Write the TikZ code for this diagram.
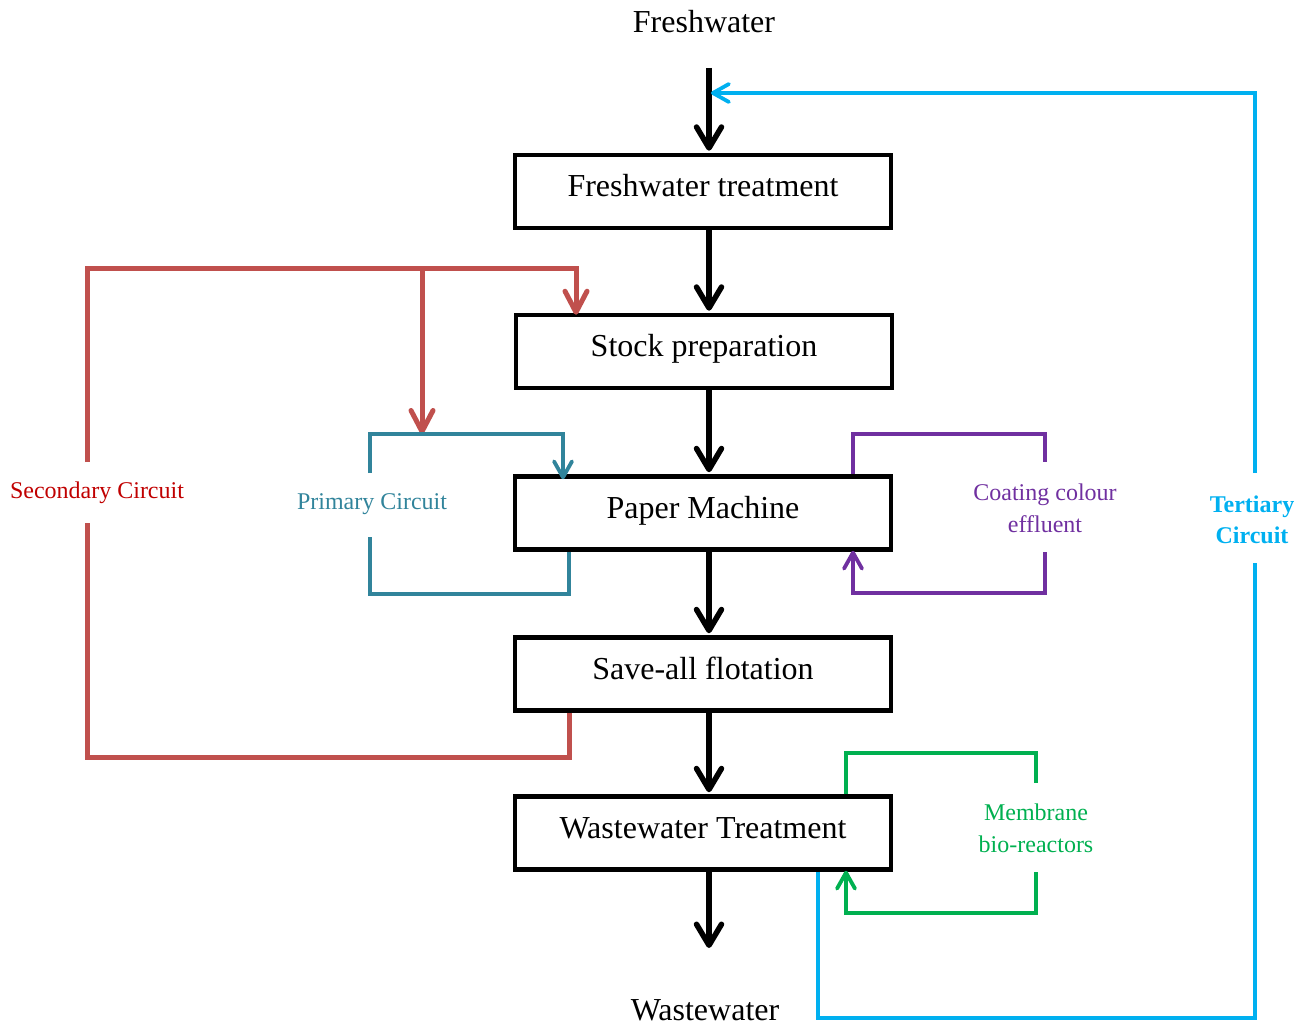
\documentclass[tikz,border=0pt]{standalone}
\usepackage{fontspec}
\setmainfont{Liberation Serif}
\usetikzlibrary{arrows.meta}
\definecolor{cred}{HTML}{C0504D}
\definecolor{cdred}{HTML}{C00000}
\definecolor{cteal}{HTML}{31849B}
\definecolor{cpurp}{HTML}{7030A0}
\definecolor{cgreen}{HTML}{00B050}
\definecolor{cblue}{HTML}{00B0F0}
\begin{document}
\begin{tikzpicture}[x=1pt,y=-1pt,
  proc/.style={draw,line width=4.5pt,minimum width=376pt,minimum height=73pt,inner sep=0pt,
    font=\fontsize{32}{36}\selectfont,text height=21pt,text depth=11pt},
  bigtxt/.style={inner sep=0pt,font=\fontsize{32}{36}\selectfont},
  smalltxt/.style={inner sep=0pt,align=center,font=\fontsize{24}{32}\selectfont},
  flow/.style={line width=5.5pt,-{Straight Barb[length=21pt,width=25pt,round]},shorten >=2pt},
  redl/.style={cred,line width=5pt},
  redarr/.style={redl,-{Straight Barb[length=21pt,width=22pt,round]}},
  teall/.style={cteal,line width=3.8pt},
  purpl/.style={cpurp,line width=3.8pt},
  greenl/.style={cgreen,line width=3.8pt},
  bluel/.style={cblue,line width=3.8pt},
  smallarr/.style={-{Straight Barb[length=16pt,width=18pt,round]}},
]
\useasboundingbox (0,0) rectangle (1306,1027);

% process boxes
\node[proc] (b1) at (703,191.5) {Freshwater treatment};
\node[proc] (b2) at (704,351.5) {Stock preparation};
\node[proc] (b3) at (703,513) {Paper Machine};
\node[proc] (b4) at (703,674) {Save-all flotation};
\node[proc] (b5) at (703,833) {Wastewater Treatment};

% end labels
\node[bigtxt] (fw) at (704,22) {Freshwater};
\node[bigtxt] (ww) at (705,1010) {Wastewater};

% circuit labels
\node[smalltxt,text=cdred] (sec) at (97,493) {Secondary Circuit};
\node[smalltxt,text=cteal] (prim) at (372,504) {Primary Circuit};
\node[smalltxt,text=cpurp] (coat) at (1045,508) {Coating colour\\effluent};
\node[smalltxt,text=cgreen] (mem) at (1036,828) {Membrane\\bio-reactors};
\node[smalltxt,text=cblue,font=\fontsize{24}{31}\selectfont\bfseries] (tert) at (1252,520) {Tertiary\\Circuit};

% helper coordinates
\coordinate (ax) at (709,0);
\coordinate (fwin) at (709,68);
\coordinate (wwout) at (709,948);

% main flow
\draw[flow] (fwin) -- (b1.north -| ax);
\draw[flow] (b1.south -| ax) -- (b2.north -| ax);
\draw[flow] (b2.south -| ax) -- (b3.north -| ax);
\draw[flow] (b3.south -| ax) -- (b4.north -| ax);
\draw[flow] (b4.south -| ax) -- (b5.north -| ax);
\draw[flow,shorten >=0pt] (b5.south -| ax) -- (wwout);

% secondary circuit (red)
\coordinate (s1) at (569,0);
\coordinate (s2) at (87,757);
\coordinate (s3) at (87,523);
\coordinate (s4) at (87,462);
\coordinate (s5) at (87,268);
\coordinate (s6) at (576,268);
\coordinate (s7) at (422,268);
\coordinate (p0) at (422,434);
\draw[redl] (b4.south -| s1) |- (s2) -- (s3);
\draw[redarr] (s4) -- (s5) -| ([yshift=-2pt]b2.north -| s6);
\draw[redarr] (s7) -- (p0);

% primary circuit (teal)
\coordinate (p1) at (370,473);
\coordinate (p2) at (370,434);
\coordinate (p3) at (563,434);
\coordinate (p4) at (370,537);
\coordinate (p5) at (370,594);
\coordinate (p6) at (569,0);
\draw[teall,smallarr] (p1) -- (p2) -| ([yshift=-5pt]b3.north -| p3);
\draw[teall] (p4) -- (p5) -| (b3.south -| p6);

% coating colour (purple)
\coordinate (c1) at (853,434);
\coordinate (c2) at (1045,462);
\coordinate (c3) at (1045,552);
\coordinate (c4) at (1045,593);
\draw[purpl] (b3.north -| c1) |- (c1 -| c2) -- (c2);
\draw[purpl,smallarr] (c3) -- (c4) -| ([yshift=1pt]b3.south -| c1);

% membrane bio-reactors (green)
\coordinate (m1) at (846,753);
\coordinate (m2) at (1036,783);
\coordinate (m3) at (1036,872);
\coordinate (m4) at (1036,913);
\draw[greenl] (b5.north -| m1) |- (m1 -| m2) -- (m2);
\draw[greenl,smallarr] (m3) -- (m4) -| ([yshift=1pt]b5.south -| m1);

% tertiary circuit (blue)
\coordinate (t1) at (818,1018);
\coordinate (t2) at (1255,563);
\coordinate (t3) at (1255,473);
\coordinate (t4) at (1255,93);
\coordinate (t5) at (711,93);
\draw[bluel] (b5.south -| t1) -- (t1) -| (t2);
\draw[bluel,smallarr] (t3) -- (t4) -- (t5);
\end{tikzpicture}
\end{document}
